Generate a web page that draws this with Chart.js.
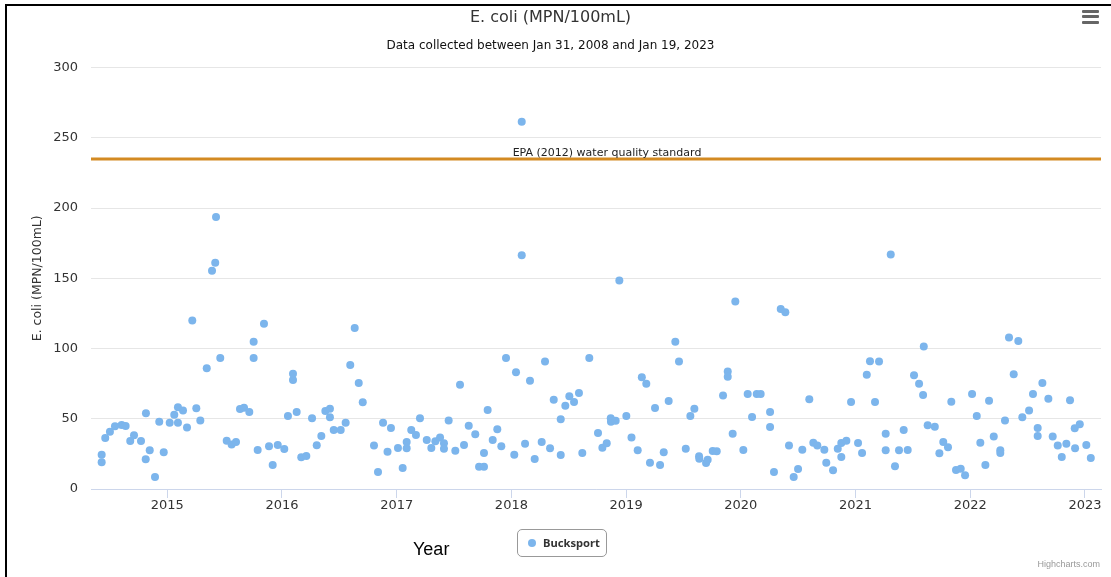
<!DOCTYPE html>
<html>
<head>
<meta charset="utf-8">
<script src="https://cdn.jsdelivr.net/npm/chart.js@4/dist/chart.umd.min.js"></script>
<style>
  html, body { margin: 0; padding: 0; background: #fff; }
  #wrap { position: relative; width: 1111px; height: 577px; overflow: hidden; background: #fff; }
  #chart { position: absolute; left: 0; top: 0; }
  #frame { position: absolute; left: 5px; top: 4px; width: 1300px; height: 800px;
           border-left: 2px solid #000; border-top: 2px solid #000; pointer-events: none; }
  #menu { position: absolute; left: 1082px; top: 10px; width: 17px; height: 14px; }
  #menu div { position: absolute; left: 0; width: 17px; height: 3px; background: #666; border-radius: 1px; }
  #xtitle { position: absolute; left: 413px; top: 539px; font: 18px "Liberation Sans", Arial, sans-serif;
            line-height: 20px; color: #000; white-space: nowrap; }
  #legend { position: absolute; left: 517px; top: 529px; width: 90px; height: 28px; box-sizing: border-box;
            border: 1px solid #999; border-radius: 5px; background: #fff; }
  #legend .dot { position: absolute; left: 10px; top: 8.5px; width: 8px; height: 8px; border-radius: 50%; background: #7cb5ec; }
  #legend .lbl { position: absolute; left: 25px; top: 4px; font: bold 11.2px "Noto Sans", sans-serif; line-height: 18px; color: #333; white-space: nowrap; }
  #credits { position: absolute; right: 11px; top: 559px; font: 9px "Liberation Sans", Arial, sans-serif;
             line-height: 10px; color: #999; white-space: nowrap; }
</style>
</head>
<body>
<div id="wrap">
  <canvas id="chart" width="1111" height="577"></canvas>
  <div id="frame"></div>
  <div id="menu"><div style="top:0"></div><div style="top:5px"></div><div style="top:10.5px"></div></div>
  <div id="xtitle">Year</div>
  <div id="legend"><span class="dot"></span><span class="lbl">Bucksport</span></div>
  <div id="credits">Highcharts.com</div>
</div>
<script>
// ---- data ----
const chartTitle = 'E. coli (MPN/100mL)';
const chartSubtitle = 'Data collected between Jan 31, 2008 and Jan 19, 2023';
const seriesName = 'Bucksport';
const yAxisTitle = 'E. coli (MPN/100mL)';
const epaLabel = 'EPA (2012) water quality standard';
const epaStandard = 235;

const xTicks = [2015, 2016, 2017, 2018, 2019, 2020, 2021, 2022, 2023];
const yTicks = [0, 50, 100, 150, 200, 250, 300];
const xMin = 2014.335;
const xMax = 2023.14;

// sample dates as decimal years
const sampleYears = [
  2014.428, 2014.428, 2014.459, 2014.500, 2014.544, 2014.602, 2014.637, 2014.677, 2014.710, 2014.771,
  2014.812, 2014.814, 2014.847, 2014.893, 2014.930, 2014.969, 2015.021, 2015.061, 2015.093, 2015.093,
  2015.137, 2015.172, 2015.218, 2015.253, 2015.288, 2015.344, 2015.390, 2015.418, 2015.425, 2015.462,
  2015.518, 2015.561, 2015.599, 2015.634, 2015.669, 2015.715, 2015.753, 2015.753, 2015.788, 2015.843,
  2015.887, 2015.919, 2015.963, 2016.020, 2016.052, 2016.096, 2016.096, 2016.128, 2016.168, 2016.212,
  2016.262, 2016.303, 2016.343, 2016.378, 2016.418, 2016.418, 2016.451, 2016.512, 2016.555, 2016.595,
  2016.634, 2016.669, 2016.704, 2016.802, 2016.837, 2016.881, 2016.920, 2016.950,
  2017.011, 2017.052, 2017.087, 2017.087, 2017.127, 2017.168, 2017.203, 2017.262, 2017.302, 2017.337,
  2017.378, 2017.412, 2017.412, 2017.453, 2017.511, 2017.552, 2017.587, 2017.628, 2017.685, 2017.718,
  2017.761, 2017.761, 2017.793, 2017.837, 2017.877, 2017.912, 2017.953, 2018.025, 2018.040, 2018.090,
  2018.090, 2018.119, 2018.162, 2018.203, 2018.264, 2018.293, 2018.337, 2018.369, 2018.430, 2018.430,
  2018.470, 2018.505, 2018.546, 2018.589, 2018.618, 2018.679, 2018.755, 2018.793, 2018.831, 2018.866,
  2018.868, 2018.909, 2018.941, 2019.002, 2019.047, 2019.101, 2019.137, 2019.176, 2019.208,
  2019.252, 2019.296, 2019.328, 2019.371, 2019.429, 2019.461, 2019.520, 2019.560, 2019.595, 2019.636,
  2019.638, 2019.697, 2019.711, 2019.755, 2019.790, 2019.845, 2019.886, 2019.886, 2019.929, 2019.952,
  2020.022, 2020.060, 2020.098, 2020.139, 2020.173, 2020.255, 2020.255, 2020.289, 2020.348, 2020.388,
  2020.420, 2020.461, 2020.499, 2020.536, 2020.597, 2020.632, 2020.667, 2020.728, 2020.745, 2020.804,
  2020.845, 2020.876, 2020.876, 2020.920, 2020.961, 2021.022, 2021.057, 2021.098, 2021.126, 2021.170,
  2021.205, 2021.263, 2021.263, 2021.307,
  2021.344, 2021.379, 2021.420, 2021.455, 2021.510, 2021.554, 2021.589, 2021.595, 2021.629, 2021.691,
  2021.731, 2021.765, 2021.806, 2021.835, 2021.876, 2021.917, 2021.955, 2022.016, 2022.057, 2022.088,
  2022.132, 2022.164, 2022.205, 2022.262, 2022.262, 2022.303, 2022.338, 2022.379, 2022.419, 2022.454,
  2022.513, 2022.547, 2022.588, 2022.588, 2022.629, 2022.681, 2022.719, 2022.763, 2022.798, 2022.838,
  2022.870, 2022.911, 2022.914, 2022.955, 2023.012, 2023.051
];

// E. coli (MPN/100mL)
const ecoliValues = [
  24.4, 19.0, 36.3, 40.8, 44.6, 45.6, 44.9, 34.2, 38.2, 34.2,
  21.1, 53.9, 27.5, 8.5, 47.9, 26.1, 47.2, 52.9, 58.2, 47.2,
  55.8, 43.7, 119.9, 57.5, 48.7, 86.0, 155.3, 161.0, 193.7, 93.3,
  34.4, 31.6, 33.5, 57.0, 57.9, 54.8, 104.9, 93.3, 27.8, 117.7,
  30.4, 17.1, 31.3, 28.5, 52.0, 82.1, 77.6, 54.8, 22.6, 23.5,
  50.3, 31.1, 37.7, 55.6, 57.2, 51.1, 42.0, 42.0, 47.2, 88.3,
  114.7, 75.5, 61.8, 30.9, 12.1, 47.2, 26.5, 43.5,
  29.2, 15.0, 33.5, 29.0, 42.0, 38.5, 50.3, 34.9, 29.2, 34.0,
  36.6, 32.5, 28.7, 48.7, 27.3, 74.3, 31.3, 45.1, 39.0, 15.9,
  15.9, 25.6, 56.3, 34.9, 42.5, 30.4, 93.3, 24.4, 83.1, 261.4,
  166.4, 32.3, 77.1, 21.4, 33.5, 90.7, 29.0, 63.6, 49.6, 24.2,
  59.3, 66.0, 62.0, 68.4, 25.6, 93.3, 39.9, 29.4, 32.5, 50.3,
  47.9, 48.6, 148.4, 52.0, 36.6, 27.5, 79.5, 75.0, 18.7,
  57.7, 17.1, 26.1, 62.7, 104.9, 90.7, 28.7, 52.0, 57.2, 23.3,
  21.6, 18.5, 20.9, 27.1, 26.9, 66.5, 83.6, 80.0, 39.4, 133.4,
  27.8, 67.7, 51.3, 67.7, 67.7, 54.8, 44.2, 12.1, 128.2, 125.8,
  30.9, 8.5, 14.2, 28.0, 63.9, 33.0, 30.9, 28.0, 18.7, 13.3,
  28.7, 32.8, 22.8, 34.4, 62.0, 32.8, 25.6, 81.4, 90.9, 62.0,
  90.7, 39.4, 27.5, 166.9,
  16.2, 27.5, 42.0, 27.8, 81.0, 75.0, 67.0, 101.4, 45.4, 44.4,
  25.4, 33.5, 29.7, 62.2, 13.5, 14.5, 9.8, 67.7, 52.0, 33.0,
  17.1, 62.9, 37.3, 27.5, 25.6, 48.7, 107.8, 81.7, 105.4, 51.1,
  55.8, 67.7, 43.4, 37.7, 75.5, 64.3, 37.3, 30.9, 22.8, 32.3,
  63.2, 43.2, 29.0, 46.1, 31.3, 22.1
];

// ---- chart ----
Chart.defaults.font.family = '"DejaVu Sans", Verdana, sans-serif';

const scatterPoints = sampleYears.map((x, i) => ({ x: x, y: ecoliValues[i] }));
const epaPoints = [{ x: xMin, y: epaStandard }, { x: xMax, y: epaStandard }];

const epaLabelPlugin = {
  id: 'epaLabel',
  afterDatasetsDraw(chart) {
    const { ctx, chartArea, scales } = chart;
    const yPix = scales.y.getPixelForValue(epaStandard);
    const xPix = (chartArea.left + chartArea.right) / 2 + 11;
    ctx.save();
    ctx.font = '11px "DejaVu Sans", Verdana, sans-serif';
    ctx.fillStyle = '#222';
    ctx.textAlign = 'center';
    ctx.textBaseline = 'alphabetic';
    ctx.fillText(epaLabel, xPix, yPix - 3);
    ctx.restore();
  }
};

new Chart(document.getElementById('chart'), {
  type: 'scatter',
  data: {
    datasets: [
      {
        type: 'line',
        label: epaLabel,
        data: epaPoints,
        borderColor: '#d38a22',
        borderWidth: 3,
        pointRadius: 0,
        fill: false,
        showLine: true,
        order: 2
      },
      {
        label: seriesName,
        data: scatterPoints,
        backgroundColor: '#7cb5ec',
        borderColor: '#7cb5ec',
        borderWidth: 0,
        pointRadius: 4,
        order: 1
      }
    ]
  },
  options: {
    responsive: false,
    devicePixelRatio: 1,
    animation: false,
    events: [],
    layout: { padding: { left: 0, right: 10, top: 0, bottom: 0 } },
    plugins: {
      legend: { display: false },
      tooltip: { enabled: false },
      title: {
        display: true,
        text: chartTitle,
        color: '#333',
        font: { size: 16, weight: 'normal' },
        padding: { top: 8, bottom: 0 }
      },
      subtitle: {
        display: true,
        text: chartSubtitle,
        color: '#111',
        font: { size: 12, weight: 'normal' },
        padding: { top: 11, bottom: 15 }
      }
    },
    scales: {
      x: {
        type: 'linear',
        min: xMin,
        max: xMax,
        afterBuildTicks: (s) => { s.ticks = xTicks.map(v => ({ value: v })); },
        afterFit: (s) => { s.height = 88; },
        grid: { display: true, drawOnChartArea: false, drawTicks: true, tickLength: 9, color: '#ccd6eb', lineWidth: 1 },
        border: { display: true, color: '#ccd6eb', width: 1 },
        ticks: {
          padding: 0, color: '#333', font: { size: 13 },
          maxRotation: 0, autoSkip: false,
          callback: (v) => String(v)
        }
      },
      y: {
        min: 0,
        max: 300,
        afterBuildTicks: (s) => { s.ticks = yTicks.map(v => ({ value: v })); },
        afterFit: (s) => { s.width = 91; },
        grid: { color: '#e6e6e6', lineWidth: 1, drawTicks: false },
        border: { display: false },
        ticks: { padding: 13, color: '#333', font: { size: 13 } },
        title: {
          display: true,
          text: yAxisTitle,
          color: '#333',
          font: { size: 12.5, weight: 'normal' },
          padding: { top: 30, bottom: 0 }
        }
      }
    }
  },
  plugins: [epaLabelPlugin]
});
</script>
</body>
</html>
